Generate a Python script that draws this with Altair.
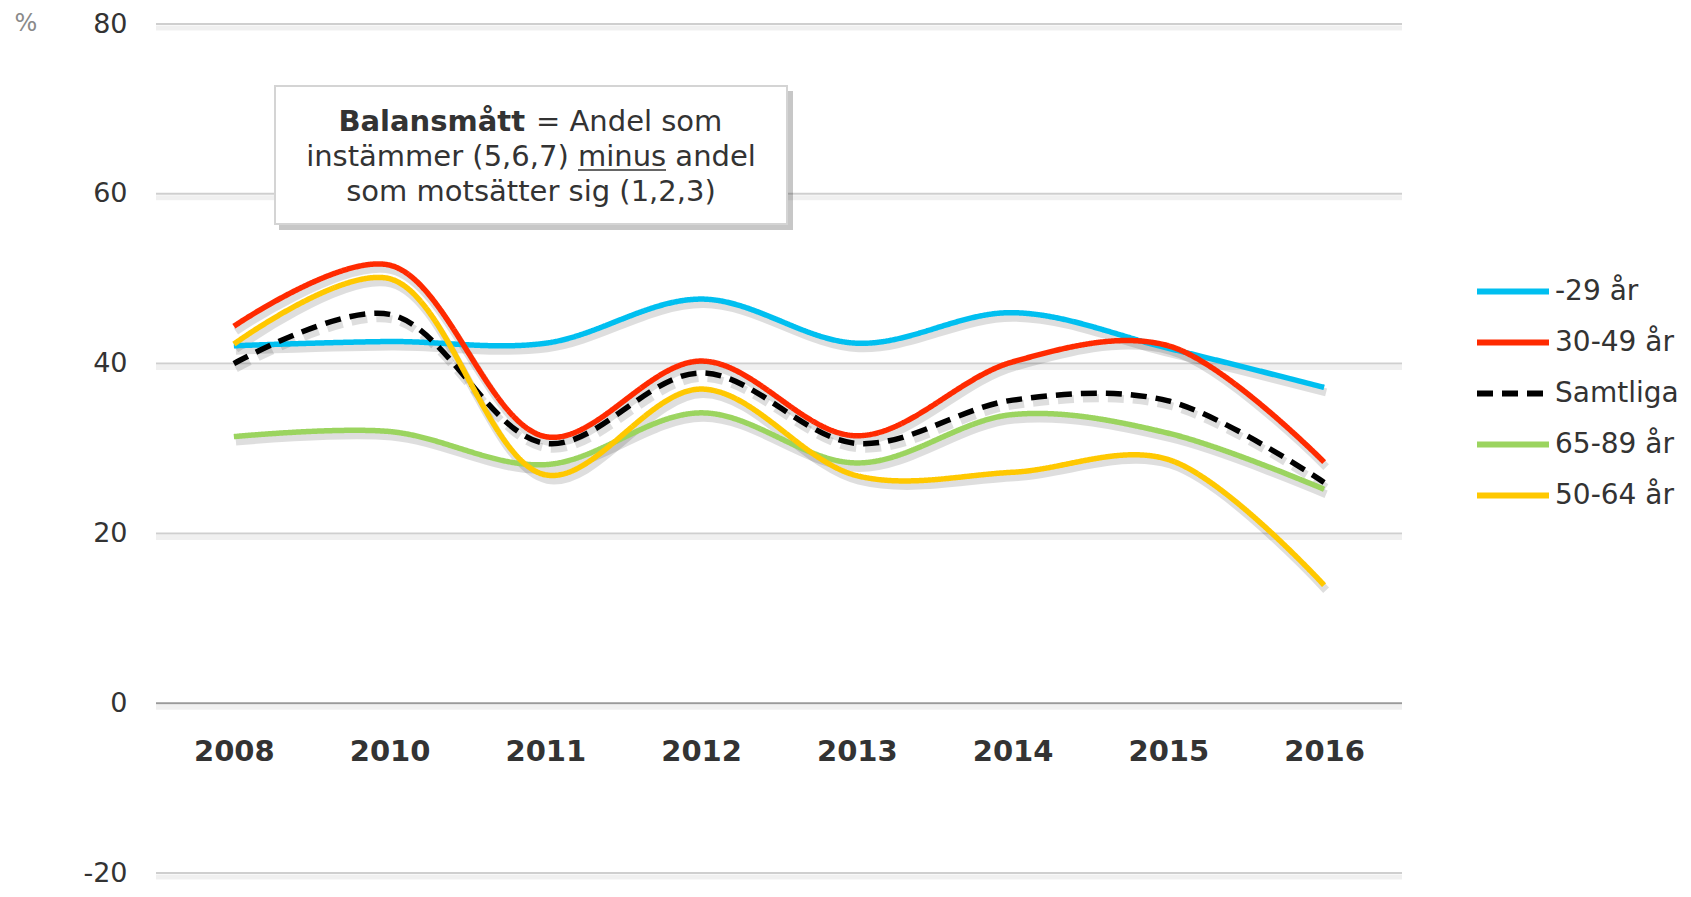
import altair as alt
import pandas as pd

years = ["2008", "2010", "2011", "2012", "2013", "2014", "2015", "2016"]
series_names = ["-29 år", "30-49 år", "Samtliga", "65-89 år", "50-64 år"]
series_colors = ["#00BFF0", "#FF2A00", "#000000", "#9BD45F", "#FFC800"]
v_29 = [42.1, 42.6, 42.4, 47.6, 42.4, 46.0, 41.8, 37.2]
v_30_49 = [44.4, 51.6, 31.4, 40.3, 31.5, 40.2, 42.1, 28.4]
v_samtliga = [40.0, 45.8, 30.6, 38.9, 30.6, 35.7, 35.6, 26.0]
v_65_89 = [31.4, 32.0, 28.1, 34.2, 28.3, 34.0, 31.8, 25.2]
v_50_64 = [42.3, 50.0, 26.9, 37.0, 26.8, 27.2, 28.7, 13.9]
y_ticks = [-20, 0, 20, 40, 60, 80]
note_bold = "Balansmått"
note_rest = "= Andel som"
note_line2 = "instämmer (5,6,7) minus andel"
note_line3 = "som motsätter sig (1,2,3)"
unit_label = "%"

values = [v_29, v_30_49, v_samtliga, v_65_89, v_50_64]
rows = []
for name, vals in zip(series_names, values):
    for yr, v in zip(years, vals):
        rows.append({"year": yr, "serie": name, "value": v})
df = pd.DataFrame(rows)

FONT = "DejaVu Sans"
W, H = 1246, 849
DASH = [16, 9]

x_scale = alt.Scale(type="point", padding=0.5)
x_axis = alt.Axis(title=None, labelAngle=0, domain=False, ticks=False, grid=False,
                  labelFontWeight="bold", labelFontSize=29,
                  labelColor="#333333", labelFont=FONT,
                  labelPadding=25, offset=-161)
y_scale = alt.Scale(domain=[-20, 80], nice=False, zero=False)
y_axis = alt.Axis(title=None, values=y_ticks, domain=False, ticks=False,
                  grid=False, labelFontSize=27, labelColor="#333333",
                  labelFont=FONT, labelPadding=29,
                  labelExpr="datum.value < 0 ? '-' + abs(datum.value) : '' + datum.value")

x_enc = alt.X("year:N", sort=years, scale=x_scale, axis=x_axis)
y_enc = alt.Y("value:Q", scale=y_scale, axis=y_axis)

# gridlines with soft shadow
grid_df = pd.DataFrame({"value": y_ticks})
grid_shadow = alt.Chart(grid_df).mark_rule(strokeWidth=5, color="#000000",
                                           opacity=0.06, yOffset=4).encode(y=y_enc)
grid = alt.Chart(grid_df).mark_rule(strokeWidth=2).encode(
    y=y_enc,
    color=alt.condition("datum.value == 0", alt.value("#9a9a9a"), alt.value("#cfcfcf")))

base = alt.Chart(df)

shadow_solid = base.transform_filter("datum.serie != 'Samtliga'").mark_line(
    interpolate="catmull-rom", strokeWidth=8, color="#000000", opacity=0.13,
    xOffset=2, yOffset=5).encode(x=x_enc, y=y_enc, detail="serie:N")
shadow_dash = base.transform_filter("datum.serie == 'Samtliga'").mark_line(
    interpolate="catmull-rom", strokeWidth=8, color="#000000", opacity=0.13,
    xOffset=2, yOffset=5, strokeDash=DASH).encode(x=x_enc, y=y_enc)

leg = dict(title=None, orient="none", legendX=1318, legendY=242,
           symbolType="stroke", symbolSize=5184, symbolStrokeWidth=6,
           labelFontSize=28, labelColor="#333333", labelFont=FONT,
           labelOffset=3, rowPadding=0, clipHeight=51)

lines = base.mark_line(interpolate="catmull-rom", strokeWidth=5.5).encode(
    x=x_enc,
    y=y_enc,
    color=alt.Color("serie:N", sort=series_names,
                    scale=alt.Scale(domain=series_names, range=series_colors),
                    legend=alt.Legend(**leg)),
    strokeDash=alt.StrokeDash("serie:N", sort=series_names,
                              scale=alt.Scale(domain=series_names,
                                              range=[[1, 0], [1, 0], DASH, [1, 0], [1, 0]]),
                              legend=alt.Legend(**leg)),
)

# annotation box
one = pd.DataFrame({"k": [0]})
box_shadow = alt.Chart(one).mark_rect(color="#000000", opacity=0.22).encode(
    x=alt.value(123), x2=alt.value(637), y=alt.value(67), y2=alt.value(206))
box = alt.Chart(one).mark_rect(color="#ffffff", stroke="#d4d4d4", strokeWidth=2).encode(
    x=alt.value(119), x2=alt.value(631), y=alt.value(62), y2=alt.value(200))


def note(txt, x, y, align, weight="normal"):
    return alt.Chart(pd.DataFrame({"t": [txt]})).mark_text(
        font=FONT, fontSize=29, fontWeight=weight, color="#333333", align=align,
        baseline="middle").encode(text="t:N", x=alt.value(x), y=alt.value(y))


note1a = note(note_bold, 369, 98, "right", "bold")
note1b = note(note_rest, 380, 98, "left")
note2 = note(note_line2, 375, 133, "center")
note3 = note(note_line3, 375, 168, "center")
underline = alt.Chart(one).mark_rule(color="#333333", strokeWidth=1.5).encode(
    x=alt.value(422), x2=alt.value(510), y=alt.value(146))

unit = alt.Chart(pd.DataFrame({"t": [unit_label]})).mark_text(
    font=FONT, fontSize=24, color="#8a8a8a", align="center", baseline="middle").encode(
    text="t:N", x=alt.value(-130), y=alt.value(0))

chart = alt.layer(
    grid_shadow, grid, shadow_solid, shadow_dash, lines,
    box_shadow, box, note1a, note1b, note2, note3, underline, unit
).properties(
    width=W, height=H,
    autosize=alt.AutoSizeParams(type="none"),
    padding={"left": 148, "top": 16, "right": 281, "bottom": 16},
    view=alt.ViewBackground(stroke="transparent", strokeWidth=0),
).configure_view(strokeWidth=0, stroke="transparent").configure(font=FONT)

chart.save("out.html", embed_options={"renderer": "svg", "actions": False})
